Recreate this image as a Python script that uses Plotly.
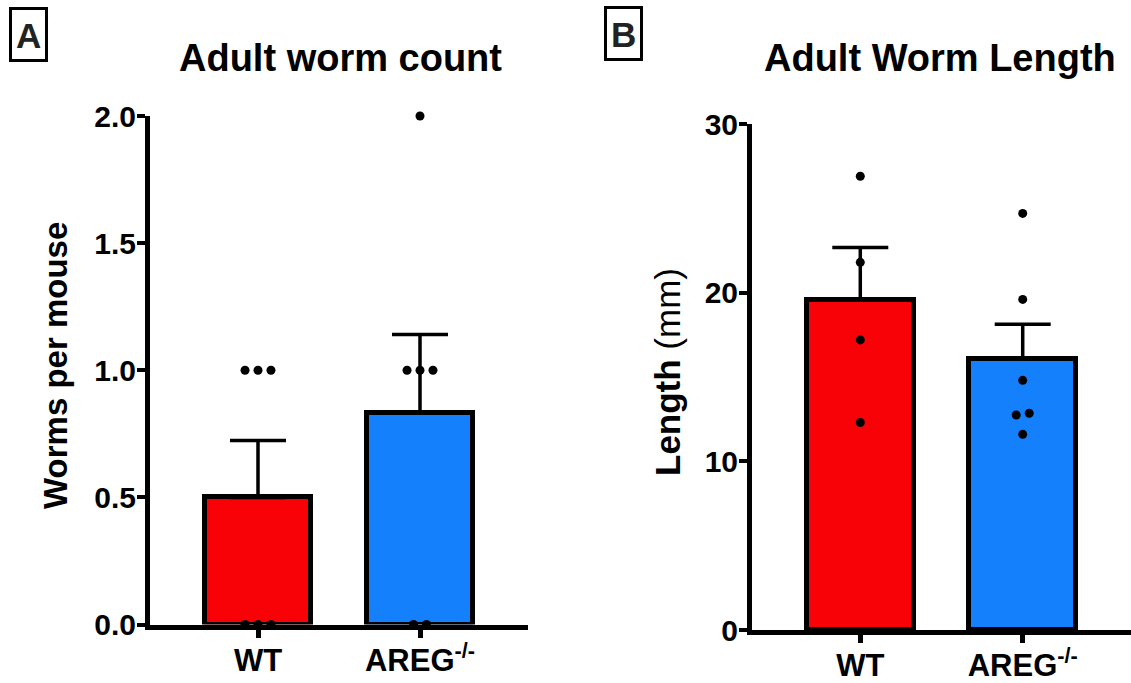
import numpy as np
import plotly.graph_objects as go

# ---- data -------------------------------------------------------------
groups = ["WT", "AREG-/-"]
group_labels = ["<b>WT</b>", "<b>AREG<sup>-/-</sup></b>"]

# adult worms recovered per mouse
count_wt = [1, 1, 1, 0, 0, 0]
count_areg = [2, 1, 1, 1, 0, 0]

# adult worm length (mm)
length_wt = [26.9, 21.8, 17.2, 12.3]
length_areg = [24.7, 19.6, 14.8, 12.85, 12.75, 11.6]

count_ticks = [0, 0.5, 1.0, 1.5, 2.0]
count_tick_text = ["0.0", "0.5", "1.0", "1.5", "2.0"]
length_ticks = [0, 10, 20, 30]
length_tick_text = ["0", "10", "20", "30"]

# ---- styling ----------------------------------------------------------
W, H = 1131, 683
FONT = "Arial, Liberation Sans, Helvetica, sans-serif"
RED = "#f90207"
BLUE = "#1580fb"
BAR_W = 0.66
SWARM_STEP = 0.08


def px(x):
    return x / W


def py(y):
    return 1 - y / H


def mean_sem(v):
    a = np.asarray(v, dtype=float)
    return a.mean(), a.std(ddof=1) / np.sqrt(a.size)


def swarm(values, center, tol):
    """Spread points with (nearly) equal values side by side."""
    v = np.asarray(values, dtype=float)
    order = np.argsort(v)
    xs = np.zeros(v.size)
    clusters, cur = [], [order[0]]
    for i in order[1:]:
        if abs(v[i] - v[cur[-1]]) < tol:
            cur.append(i)
        else:
            clusters.append(cur)
            cur = [i]
    clusters.append(cur)
    for c in clusters:
        n = len(c)
        for k, i in enumerate(c):
            xs[i] = center + (k - (n - 1) / 2) * SWARM_STEP
    return xs


fig = go.Figure()

panels = [
    dict(data=[count_wt, count_areg], xa="x", ya="y",
         xdom=[px(150), px(528)], ydom=[py(624.5), py(116)],
         yrange=[0, 2], ticks=count_ticks, ticktext=count_tick_text),
    dict(data=[length_wt, length_areg], xa="x2", ya="y2",
         xdom=[px(752), px(1131)], ydom=[py(630), py(124)],
         yrange=[0, 30], ticks=length_ticks, ticktext=length_tick_text),
]

for p in panels:
    stats = [mean_sem(d) for d in p["data"]]
    means = [s[0] for s in stats]
    sems = [s[1] for s in stats]
    fig.add_trace(go.Bar(
        x=[0, 1], y=means, width=BAR_W,
        marker=dict(color=[RED, BLUE], line=dict(color="black", width=5)),
        error_y=dict(type="data", symmetric=False, array=sems,
                     arrayminus=[0, 0], color="black", thickness=3.5, width=28),
        xaxis=p["xa"], yaxis=p["ya"], hoverinfo="skip",
    ))
    tol = 0.02 * (p["yrange"][1] - p["yrange"][0])
    for gi, d in enumerate(p["data"]):
        fig.add_trace(go.Scatter(
            x=swarm(d, gi, tol), y=d, mode="markers",
            marker=dict(color="black", size=9),
            cliponaxis=False, xaxis=p["xa"], yaxis=p["ya"],
        ))

axis_common = dict(showline=True, linecolor="black", linewidth=5,
                   ticks="outside", tickcolor="black", ticklen=8,
                   showgrid=False, zeroline=False, fixedrange=True,
                   automargin=False)

for i, p in enumerate(panels):
    sfx = "" if i == 0 else "2"
    fig.layout["xaxis" + sfx] = dict(
        axis_common, domain=p["xdom"], range=[-0.6667, 1.6667],
        tickvals=[0, 1], ticktext=group_labels, tickwidth=5,
        tickfont=dict(family=FONT, size=31, color="black"),
        ticklabelstandoff=-4, anchor="y" + sfx,
    )
    fig.layout["yaxis" + sfx] = dict(
        axis_common, domain=p["ydom"], range=p["yrange"],
        tickvals=p["ticks"], ticktext=["<b>%s</b>" % t for t in p["ticktext"]],
        tickwidth=4, tickfont=dict(family=FONT, size=30, color="black"),
        ticklabelstandoff=-5, anchor="x" + sfx,
    )

annotations = [
    dict(text="<b>Adult worm count</b>", x=px(340), y=py(58), size=38),
    dict(text="<b>Adult Worm Length</b>", x=px(940), y=py(58), size=38),
    dict(text="<b>Worms per mouse</b>", x=px(55), y=py(366), size=33, angle=-90),
    dict(text="<b>Length</b> (mm)", x=px(667), y=py(372), size=35, angle=-90),
]
fig.update_layout(annotations=[
    dict(xref="paper", yref="paper", x=a["x"], y=a["y"], text=a["text"],
         showarrow=False, xanchor="center", yanchor="middle",
         textangle=a.get("angle", 0),
         font=dict(family=FONT, size=a["size"], color="black"))
    for a in annotations
])

# panel letters in framed boxes
for letter, cx, cy in [("A", 28.5, 34.5), ("B", 623.5, 33.5)]:
    fig.add_shape(type="rect", xref="paper", yref="paper",
                  x0=px(cx - 18), x1=px(cx + 18), y0=py(cy + 26), y1=py(cy - 26),
                  line=dict(color="black", width=3))
    fig.add_annotation(xref="paper", yref="paper", x=px(cx), y=py(cy + 1),
                       xanchor="center", yanchor="middle",
                       text="<b>%s</b>" % letter, showarrow=False,
                       font=dict(family=FONT, size=35, color="#222222"))

fig.update_layout(
    width=W, height=H,
    margin=dict(l=0, r=0, t=0, b=0, pad=0, autoexpand=False),
    paper_bgcolor="white", plot_bgcolor="white",
    showlegend=False, bargap=0,
)

fig.write_html("out.html")
